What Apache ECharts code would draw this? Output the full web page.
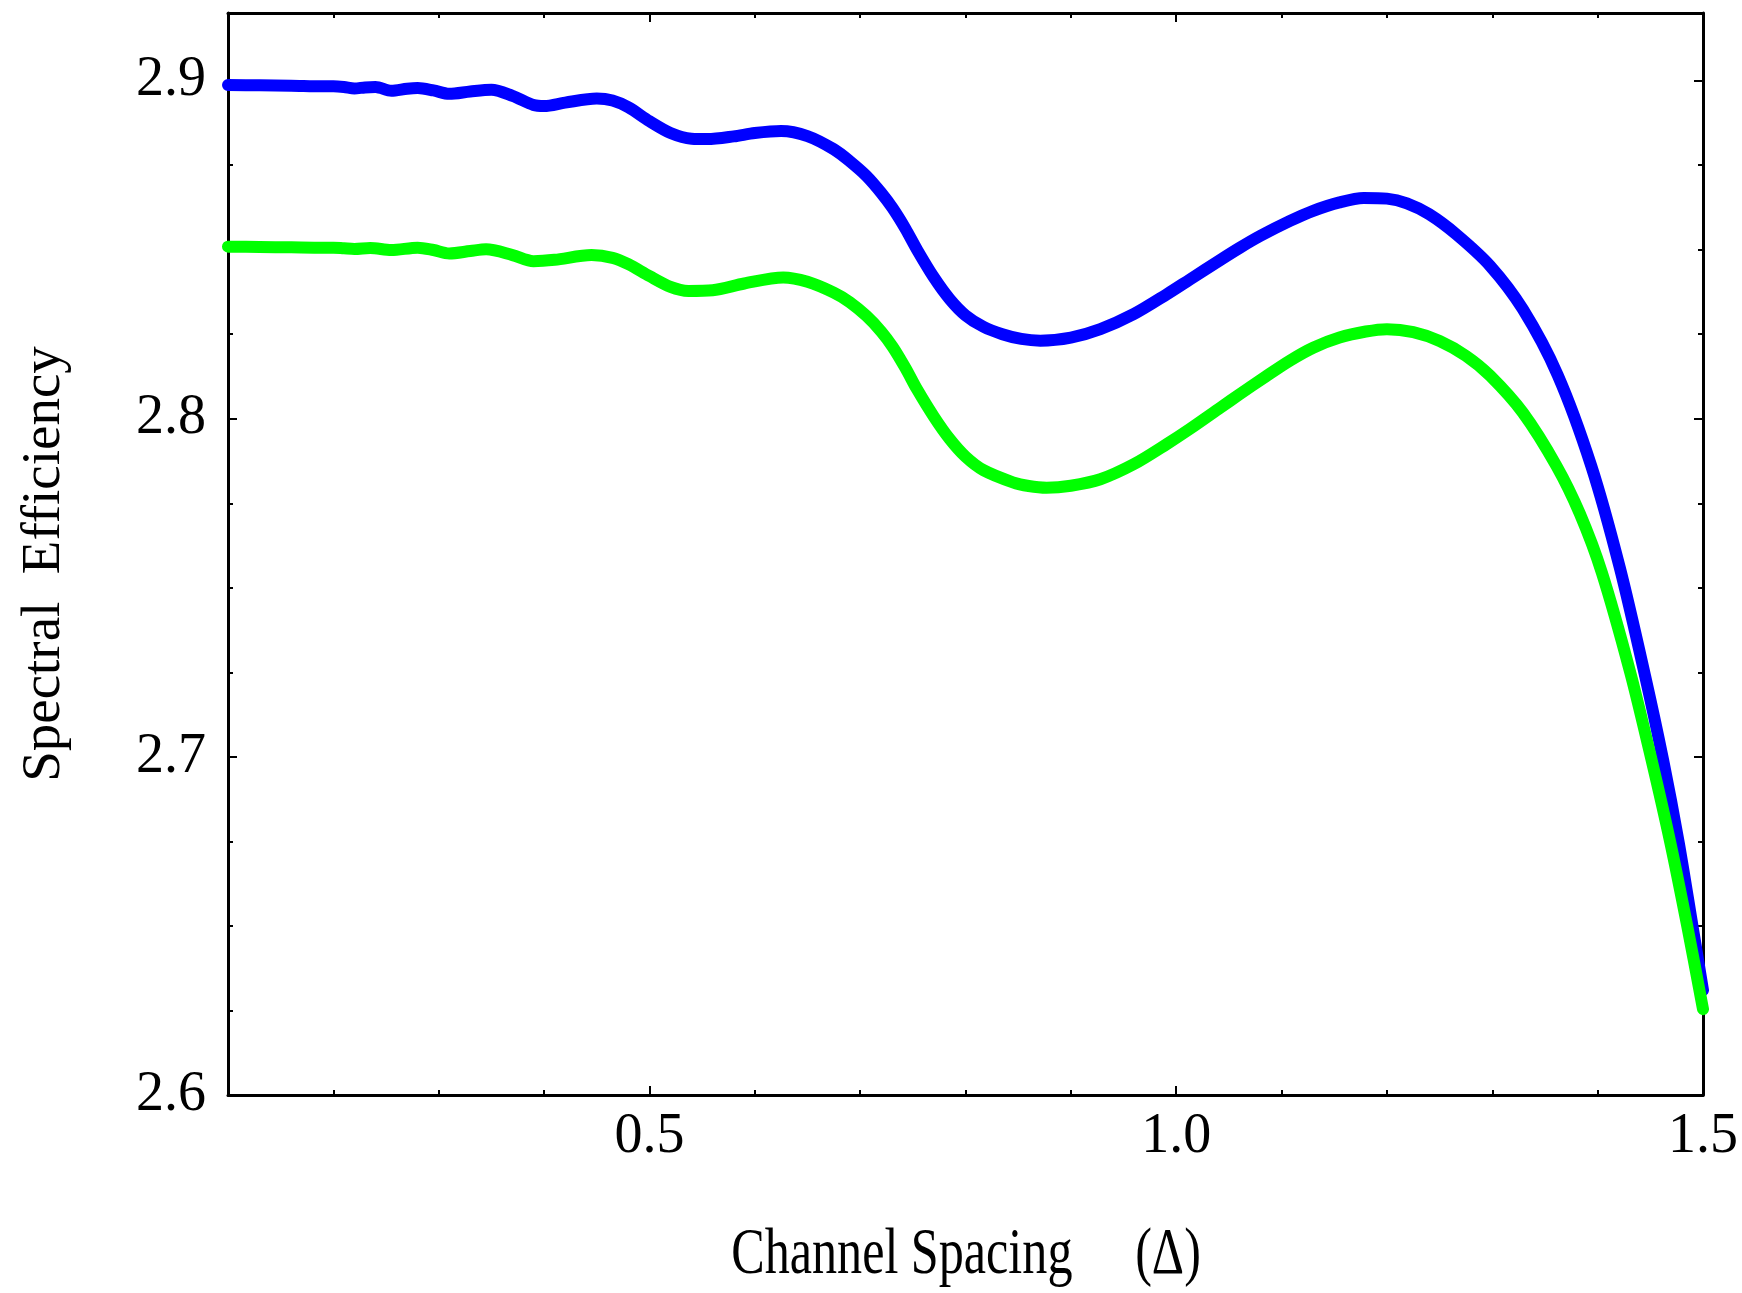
<!DOCTYPE html>
<html>
<head>
<meta charset="utf-8">
<script src="https://cdn.jsdelivr.net/npm/echarts@6/dist/echarts.min.js"></script>
<style>
html,body{margin:0;padding:0;background:#fff;}
#chart{width:1742px;height:1293px;}
</style>
</head>
<body>
<div id="chart"></div>
<script>
// ---- data ----
const blueX = [0.10,0.13,0.16,0.19,0.20,0.21,0.22,0.23,0.24,0.255,0.27,0.28,0.295,0.31,0.33,0.35,0.37,0.39,0.40,0.42,0.45,0.465,0.48,0.50,0.52,0.54,0.555,0.58,0.60,0.625,0.65,0.675,0.69,0.706,0.72,0.731,0.743,0.754,0.77,0.785,0.80,0.817,0.835,0.853,0.871,0.90,0.928,0.96,0.991,1.013,1.042,1.06,1.08,1.108,1.13,1.155,1.178,1.20,1.219,1.24,1.266,1.298,1.329,1.362,1.394,1.421,1.445,1.462,1.477,1.490,1.500];
const blueY = [2.8987,2.8986,2.8985,2.8983,2.8983,2.8981,2.8977,2.8980,2.8981,2.8970,2.8976,2.8978,2.8971,2.8961,2.8968,2.8973,2.8955,2.8928,2.8925,2.8935,2.8947,2.8941,2.8921,2.8880,2.8845,2.8828,2.8827,2.8835,2.8845,2.8851,2.8836,2.8797,2.8762,2.8718,2.8668,2.8622,2.8562,2.8500,2.8418,2.8354,2.8306,2.8272,2.8250,2.8236,2.8231,2.8240,2.8265,2.8310,2.8368,2.8412,2.8470,2.8505,2.8541,2.8585,2.8615,2.8640,2.8653,2.8651,2.8637,2.8605,2.8545,2.8452,2.8324,2.8130,2.7860,2.7560,2.7240,2.6993,2.6746,2.6500,2.6310];
const greenX = [0.10,0.13,0.16,0.19,0.20,0.21,0.22,0.235,0.255,0.28,0.295,0.31,0.33,0.345,0.37,0.39,0.41,0.445,0.465,0.48,0.50,0.52,0.537,0.56,0.59,0.627,0.65,0.675,0.69,0.706,0.72,0.731,0.743,0.754,0.77,0.785,0.80,0.817,0.845,0.86,0.877,0.90,0.928,0.96,0.991,1.013,1.042,1.06,1.085,1.108,1.13,1.155,1.18,1.20,1.225,1.25,1.275,1.298,1.329,1.361,1.383,1.404,1.431,1.451,1.469,1.485,1.500];
const greenY = [2.8509,2.8508,2.8507,2.8506,2.8506,2.8504,2.8502,2.8505,2.8499,2.8506,2.8499,2.8489,2.8496,2.8501,2.8484,2.8466,2.8470,2.8484,2.8476,2.8457,2.8422,2.8390,2.8378,2.8380,2.8400,2.8418,2.8405,2.8373,2.8345,2.8304,2.8258,2.8212,2.8150,2.8087,2.8006,2.7940,2.7888,2.7848,2.7812,2.7801,2.7796,2.7802,2.7821,2.7866,2.7925,2.7970,2.8033,2.8072,2.8125,2.8172,2.8210,2.8240,2.8258,2.8265,2.8256,2.8230,2.8186,2.8127,2.8018,2.7860,2.7720,2.7545,2.7249,2.6993,2.6746,2.6500,2.6254];

const xMajorTicks = [0.5, 1.0, 1.5];
const xMinorTicks = [0.2, 0.3, 0.4, 0.6, 0.7, 0.8, 0.9, 1.1, 1.2, 1.3, 1.4];
const yMajorTicks = [2.6, 2.7, 2.8, 2.9];
const yMinorTicks = [2.625, 2.65, 2.675, 2.725, 2.75, 2.775, 2.825, 2.85, 2.875, 2.9];

const xTitle = 'Channel Spacing     (\u0394)';
const yTitle = 'Spectral  Efficiency';

// ---- chart ----
const FONT = 'Liberation Serif';
const chart = echarts.init(document.getElementById('chart'));

function xAxisDef(pos, ticks, len, showLine, showLabel) {
  return {
    type: 'value', position: pos, min: 0.1, max: 1.5,
    axisLine: { show: showLine, onZero: false, lineStyle: { color: '#000', width: 3 } },
    axisTick: { show: true, inside: true, length: len, customValues: ticks, lineStyle: { color: '#000', width: 2 } },
    axisLabel: showLabel ? { show: true, customValues: xMajorTicks, margin: 14, color: '#000',
      fontFamily: FONT, fontSize: 56, formatter: v => v.toFixed(1) } : { show: false },
    splitLine: { show: false }
  };
}
function yAxisDef(pos, ticks, len, showLine, showLabel) {
  return {
    type: 'value', position: pos, min: 2.6, max: 2.92,
    axisLine: { show: showLine, onZero: false, lineStyle: { color: '#000', width: 3 } },
    axisTick: { show: true, inside: true, length: len, customValues: ticks, lineStyle: { color: '#000', width: 2 } },
    axisLabel: showLabel ? { show: true, customValues: yMajorTicks, margin: 22, color: '#000',
      fontFamily: FONT, fontSize: 56, formatter: v => v.toFixed(1) } : { show: false },
    splitLine: { show: false }
  };
}

chart.setOption({
  animation: false,
  backgroundColor: '#fff',
  grid: { left: 228, right: 39, top: 13, bottom: 198, containLabel: false },
  xAxis: [
    xAxisDef('bottom', xMinorTicks, 5, true, true),
    xAxisDef('bottom', xMajorTicks, 9, false, false),
    xAxisDef('top', xMinorTicks, 5, true, false),
    xAxisDef('top', xMajorTicks, 9, false, false)
  ],
  yAxis: [
    yAxisDef('left', yMinorTicks, 5, true, true),
    yAxisDef('left', yMajorTicks, 9, false, false),
    yAxisDef('right', yMinorTicks, 5, true, false),
    yAxisDef('right', yMajorTicks, 9, false, false)
  ],
  series: [
    {
      type: 'line', xAxisIndex: 0, yAxisIndex: 0, showSymbol: false, smooth: 0.3,
      data: blueX.map((x, i) => [x, blueY[i]]),
      lineStyle: { color: '#0000ff', width: 12, cap: 'round', join: 'round' }
    },
    {
      type: 'line', xAxisIndex: 0, yAxisIndex: 0, showSymbol: false, smooth: 0.3,
      data: greenX.map((x, i) => [x, greenY[i]]),
      lineStyle: { color: '#00ff00', width: 12, cap: 'round', join: 'round' }
    }
  ],
  graphic: [
    {
      type: 'text', x: 966, y: 1256, scaleX: 0.76, scaleY: 1,
      style: { text: xTitle, fontFamily: FONT, fontSize: 66, fill: '#000', align: 'center', verticalAlign: 'middle' }
    },
    {
      type: 'text', x: 45, y: 564, rotation: Math.PI / 2,
      style: { text: yTitle, fontFamily: FONT, fontSize: 55, fill: '#000', align: 'center', verticalAlign: 'middle' }
    }
  ]
});
</script>
</body>
</html>
